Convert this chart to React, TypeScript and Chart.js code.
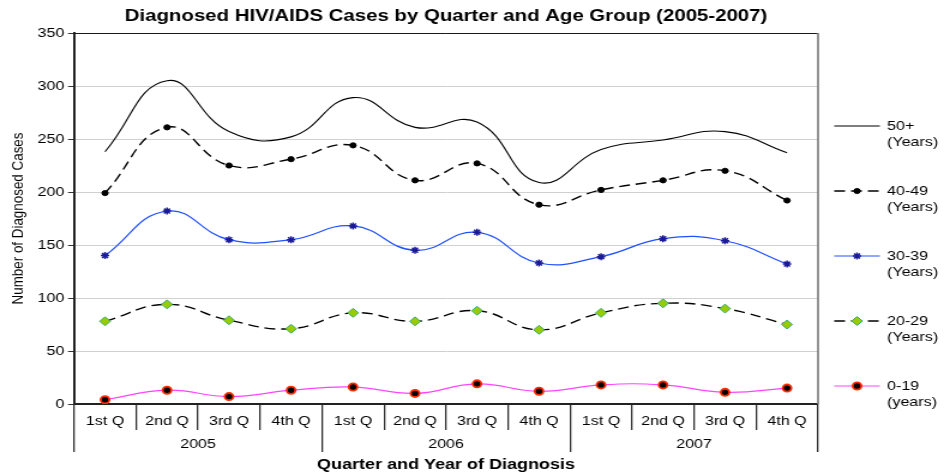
import React, { useEffect, useRef } from "react";
import { Chart, registerables } from "chart.js";
import { drawPoint } from "chart.js/helpers";

Chart.register(...registerables);

const QUARTERS = ["1st Q", "2nd Q", "3rd Q", "4th Q", "1st Q", "2nd Q", "3rd Q", "4th Q", "1st Q", "2nd Q", "3rd Q", "4th Q"];
const YEARS = ["2005", "2006", "2007"];
const AGE_50_PLUS = [238, 305, 257, 252, 289, 261, 266, 209, 240, 249, 257, 237];
const AGE_40_49 = [199, 261, 225, 231, 244, 211, 227, 188, 202, 211, 220, 192];
const AGE_30_39 = [140, 182, 155, 155, 168, 145, 162, 133, 139, 156, 154, 132];
const AGE_20_29 = [78, 94, 79, 71, 86, 78, 88, 70, 86, 95, 90, 75];
const AGE_0_19 = [4, 13, 7, 13, 16, 10, 19, 12, 18, 18, 11, 15];
const LEGEND_LINES = [["50+", "(Years)"], ["40-49", "(Years)"], ["30-39", "(Years)"], ["20-29", "(Years)"], ["0-19", "(years)"]];
const Y_TICKS = [0, 50, 100, 150, 200, 250, 300, 350];

const FONT = "'Liberation Sans', Arial, sans-serif";
const STRETCH = 1.2;
const INNER_W = Math.round(950 / STRETCH);

const framePlugin = {
  id: "frame",
  beforeDatasetsDraw(chart: any) {
    const { ctx, chartArea } = chart;
    ctx.save();
    ctx.strokeStyle = "#1a1a1a";
    ctx.lineWidth = 1;
    ctx.beginPath();
    ctx.moveTo(chartArea.left, chartArea.top + 0.5);
    ctx.lineTo(chartArea.right, chartArea.top + 0.5);
    ctx.stroke();
    ctx.strokeStyle = "#808080";
    ctx.lineWidth = 1.7;
    ctx.beginPath();
    ctx.moveTo(chartArea.right, chartArea.top);
    ctx.lineTo(chartArea.right, chartArea.bottom);
    ctx.stroke();
    ctx.restore();
  },
};

const legendPlugin = {
  id: "sideLegend",
  afterDraw(chart: any) {
    const { ctx, chartArea } = chart;
    const x0 = chartArea.right + 13.5;
    const x1 = chartArea.right + 51.5;
    const tx = chartArea.right + 57.5;
    chart.data.datasets.forEach((ds: any, i: number) => {
      const y = chartArea.top + 93 + i * 65;
      ctx.save();
      ctx.strokeStyle = ds.borderColor;
      ctx.lineWidth = ds.borderWidth;
      ctx.setLineDash(ds.borderDash || []);
      ctx.beginPath();
      ctx.moveTo(x0, y);
      ctx.lineTo(x1, y);
      ctx.stroke();
      ctx.setLineDash([]);
      if (ds.pointRadius > 0) {
        ctx.fillStyle = ds.pointBackgroundColor;
        ctx.strokeStyle = ds.pointBorderColor;
        ctx.lineWidth = ds.pointBorderWidth;
        drawPoint(ctx, { pointStyle: ds.pointStyle, radius: ds.pointRadius, borderWidth: ds.pointBorderWidth, rotation: 0 } as any, (x0 + x1) / 2, y);
      }
      ctx.fillStyle = "#000";
      ctx.font = `13.4px ${FONT}`;
      ctx.textBaseline = "middle";
      ctx.textAlign = "left";
      LEGEND_LINES[i].forEach((t, j) => ctx.fillText(t, tx, y + j * 16));
      ctx.restore();
    });
  },
};

export default function App() {
  const ref = useRef<HTMLCanvasElement | null>(null);
  useEffect(() => {
    document.body.style.margin = "0";
    const chart = new Chart(ref.current as HTMLCanvasElement, {
      type: "line",
      data: {
        labels: QUARTERS,
        datasets: [
          {
            label: "50+ (Years)",
            data: AGE_50_PLUS,
            borderColor: "#000000",
            borderWidth: 1.1,
            pointRadius: 0,
            tension: 0.45,
          },
          {
            label: "40-49 (Years)",
            data: AGE_40_49,
            borderColor: "#000000",
            borderWidth: 1.4,
            borderDash: [9, 5],
            pointStyle: "circle",
            pointRadius: 2.6,
            pointBackgroundColor: "#000000",
            pointBorderColor: "#000000",
            pointBorderWidth: 1,
            tension: 0.45,
          },
          {
            label: "30-39 (Years)",
            data: AGE_30_39,
            borderColor: "#2050ff",
            borderWidth: 1.2,
            pointStyle: "star",
            pointRadius: 3.5,
            pointBackgroundColor: "#1a1a99",
            pointBorderColor: "#1a1a99",
            pointBorderWidth: 1.5,
            tension: 0.45,
          },
          {
            label: "20-29 (Years)",
            data: AGE_20_29,
            borderColor: "#000000",
            borderWidth: 1.4,
            borderDash: [9, 5],
            pointStyle: "rectRot",
            pointRadius: 4.5,
            pointBackgroundColor: "#99cc00",
            pointBorderColor: "#33aa77",
            pointBorderWidth: 1,
            tension: 0.45,
          },
          {
            label: "0-19 (years)",
            data: AGE_0_19,
            borderColor: "#ff44ff",
            borderWidth: 1.2,
            pointStyle: "circle",
            pointRadius: 3.6,
            pointBackgroundColor: "#000000",
            pointBorderColor: "#ff2a00",
            pointBorderWidth: 1.8,
            tension: 0.45,
          },
        ],
      },
      options: {
        responsive: true,
        maintainAspectRatio: false,
        animation: false,
        layout: { padding: { left: 0, right: 110, top: 0, bottom: 0 } },
        plugins: {
          legend: { display: false },
          tooltip: { enabled: false },
          title: {
            display: true,
            fullSize: false,
            text: "Diagnosed HIV/AIDS Cases by Quarter and Age Group (2005-2007)",
            color: "#000",
            font: { family: FONT, size: 17, weight: "bold" },
            padding: { top: 6, bottom: 6.6 },
          },
        },
        scales: {
          x: {
            type: "category",
            position: "bottom",
            offset: true,
            afterFit: (scale: any) => {
              scale.height = 26;
            },
            grid: { offset: true, drawOnChartArea: false, drawTicks: true, tickLength: 26, tickColor: "#333", lineWidth: 1.3 },
            border: { display: true, color: "#222", width: 2 },
            ticks: { color: "#000", font: { family: FONT, size: 13.4 }, padding: -17, maxRotation: 0, autoSkip: false },
          },
          x2: {
            type: "category",
            position: "bottom",
            labels: YEARS,
            offset: true,
            afterFit: (scale: any) => {
              scale.height = 45;
            },
            grid: { offset: true, drawOnChartArea: false, drawTicks: true, tickLength: 22, tickColor: "#333", lineWidth: 1.3 },
            border: { display: false },
            ticks: { color: "#000", font: { family: FONT, size: 13.4 }, padding: -16, maxRotation: 0, autoSkip: false },
            title: {
              display: true,
              text: "Quarter and Year of Diagnosis",
              color: "#000",
              font: { family: FONT, size: 15, weight: "bold" },
              padding: { top: 0, bottom: 1 },
            },
          },
          y: {
            min: 0,
            max: 350,
            afterBuildTicks: (scale: any) => {
              scale.ticks = Y_TICKS.map((v) => ({ value: v }));
            },
            afterFit: (scale: any) => {
              scale.width = 61.7;
            },
            grid: { color: "#d0d0d0", lineWidth: 1, tickLength: 5, tickColor: "#333" },
            border: { display: true, color: "#222", width: 2 },
            ticks: { color: "#000", font: { family: FONT, size: 13.4 }, padding: 3 },
            title: {
              display: true,
              text: "Number of Diagnosed Cases",
              color: "#000",
              font: { family: FONT, size: 13.4 },
              padding: { top: 7, bottom: 4 },
            },
          },
        },
      },
      plugins: [framePlugin, legendPlugin],
    } as any);
    return () => chart.destroy();
  }, []);
  return (
    <div style={{ width: 950, height: 475, overflow: "hidden", background: "#fff" }}>
      <div style={{ width: INNER_W, height: 475, position: "relative", transform: `scaleX(${950 / INNER_W})`, transformOrigin: "0 0" }}>
        <canvas ref={ref} />
      </div>
    </div>
  );
}
